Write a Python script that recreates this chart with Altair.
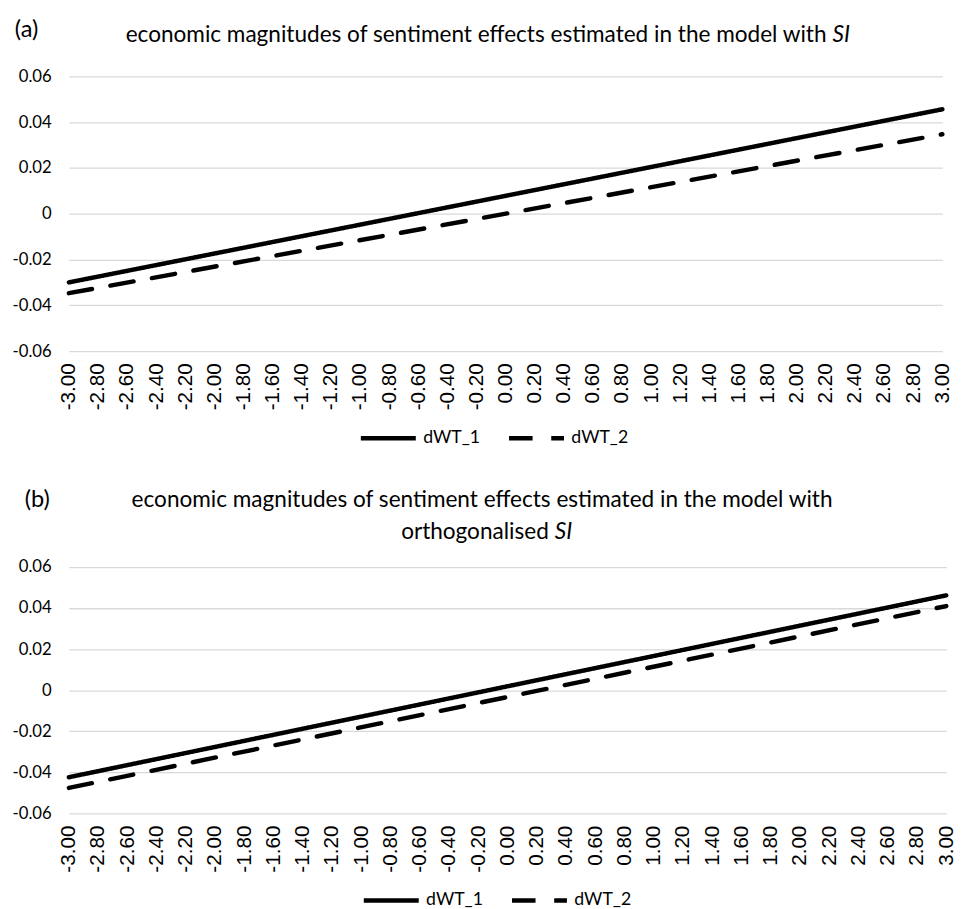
import altair as alt
import pandas as pd

# ---- data ----
x_categories = ["-3.00", "-2.80", "-2.60", "-2.40", "-2.20", "-2.00", "-1.80", "-1.60",
                "-1.40", "-1.20", "-1.00", "-0.80", "-0.60", "-0.40", "-0.20", "0.00",
                "0.20", "0.40", "0.60", "0.80", "1.00", "1.20", "1.40", "1.60", "1.80",
                "2.00", "2.20", "2.40", "2.60", "2.80", "3.00"]
y_ticks = [-0.06, -0.04, -0.02, 0, 0.02, 0.04, 0.06]
series_names = ["dWT_1", "dWT_2"]
line_x = ["-3.00", "3.00"]          # straight lines: value at the first and last category

a_dwt1 = [-0.0300, 0.0456]
a_dwt2 = [-0.0347, 0.0347]
b_dwt1 = [-0.0424, 0.0462]
b_dwt2 = [-0.0476, 0.0410]

title_a = "economic magnitudes of sentiment effects estimated in the model with"
title_b1 = "economic magnitudes of sentiment effects estimated in the model with"
title_b2 = "orthogonalised"
title_italic = "SI"

FONT = "Lato"
XFONT = "Liberation Sans Narrow, Liberation Sans, sans-serif"


def text_layer(txt, x, y, align="center", italic=False, size=23):
    return alt.Chart(pd.DataFrame({"t": [txt]})).mark_text(
        align=align, baseline="middle", font=FONT, fontSize=size,
        fontStyle="italic" if italic else "normal", color="black"
    ).encode(text="t:N", x=alt.value(x), y=alt.value(y))


def panel(v1, v2, width, height, legend_x, legend_y):
    df = pd.DataFrame({
        "x": line_x + line_x,
        "y": v1 + v2,
        "series": [series_names[0]] * 2 + [series_names[1]] * 2,
    })
    return alt.Chart(df).mark_line(color="black", strokeWidth=4.5, strokeCap="round").encode(
        x=alt.X("x:N", sort=x_categories,
                scale=alt.Scale(type="point", domain=x_categories, padding=0),
                axis=alt.Axis(title=None, labelAngle=-90, labelFont=XFONT, labelFontSize=21,
                              labelColor="black", ticks=False, domain=False, grid=False,
                              labelPadding=12, labelOverlap=False, values=x_categories)),
        y=alt.Y("y:Q",
                scale=alt.Scale(domain=[-0.06, 0.06], nice=False, zero=False),
                axis=alt.Axis(title=None, values=y_ticks,
                              labelExpr="datum.value == 0 ? '0' : replace(format(datum.value, '.2f'), '\u2212', '-')",
                              ticks=False, domain=False, grid=True, gridColor="#d9d9d9",
                              gridWidth=1.3, labelFont=FONT, labelFontSize=17,
                              labelColor="black", labelPadding=18)),
        strokeDash=alt.StrokeDash(
            "series:N",
            scale=alt.Scale(domain=series_names, range=[[1, 0], [24, 19]]),
            legend=alt.Legend(title=None, orient="none", legendX=legend_x, legendY=legend_y,
                              direction="horizontal", symbolType="stroke", symbolSize=3136,
                              symbolStrokeWidth=4.5, symbolStrokeColor="black",
                              labelFont=FONT, labelFontSize=18, labelColor="black",
                              columnPadding=20, labelOffset=5)),
    ).properties(width=width, height=height)


pa = alt.layer(
    panel(a_dwt1, a_dwt2, 890, 280, 295, 338),
    text_layer("(a)", -55, -47, align="left", size=24),
    text_layer(title_a, 772, -42, align="right"),
    text_layer(title_italic, 778, -42, align="left", italic=True),
)

pb = alt.layer(
    panel(b_dwt1, b_dwt2, 894, 251, 298, 309),
    text_layer("(b)", -45, -68, align="left", size=24),
    text_layer(title_b1, 421, -68, align="center"),
    text_layer(title_b2, 489, -36, align="right"),
    text_layer(title_italic, 495, -36, align="left", italic=True),
)

chart = alt.vconcat(pa, pb, spacing=42).resolve_scale(
    x="independent", y="independent", strokeDash="independent"
).resolve_legend(strokeDash="independent").configure_view(stroke=None).properties(
    padding={"left": 4, "top": 2, "right": 5, "bottom": 0}, background="white"
)

chart.save("out.html", embed_options={"renderer": "svg", "actions": False})
